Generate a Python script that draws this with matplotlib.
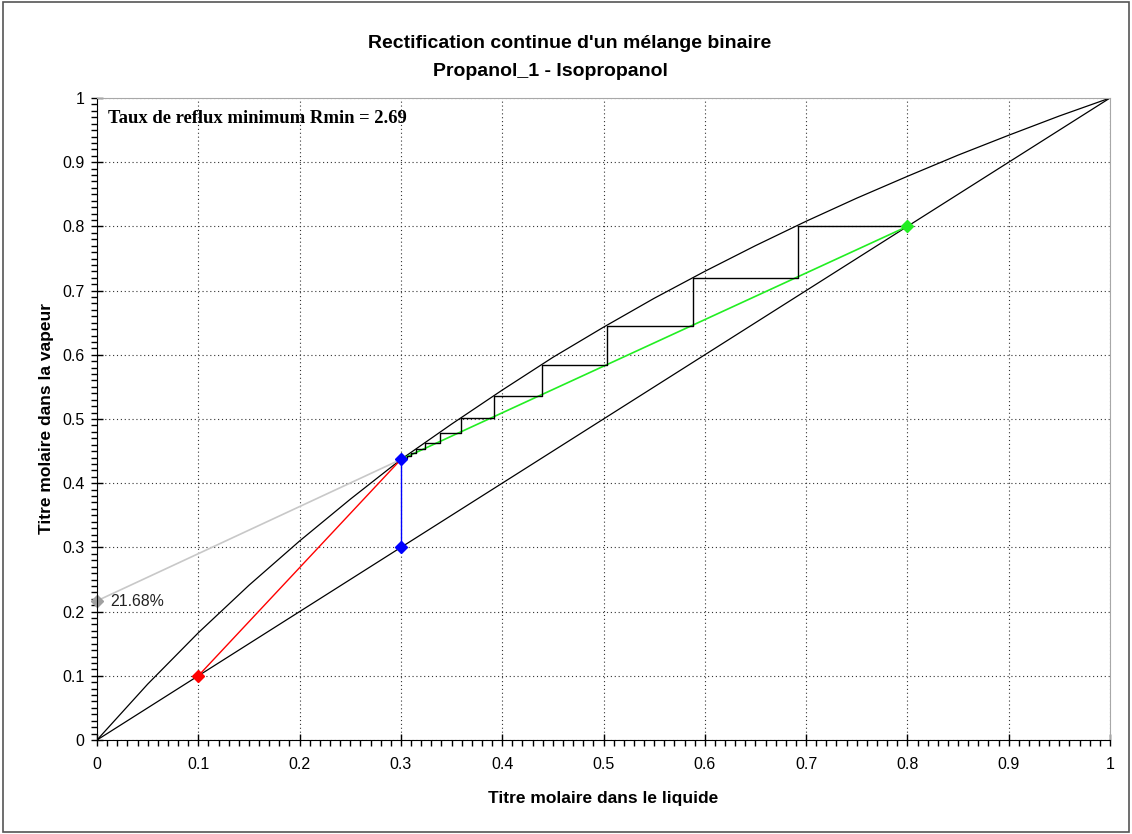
import numpy as np
import matplotlib
matplotlib.use("Agg")
import matplotlib.pyplot as plt
from matplotlib.patches import Rectangle
from matplotlib.ticker import MultipleLocator

# Courbe d'équilibre
eq_x = [0, 0.05, 0.1, 0.15, 0.2, 0.25, 0.3, 0.35, 0.4, 0.45, 0.5,
        0.55, 0.6, 0.65, 0.7, 0.75, 0.8, 0.85, 0.9, 0.95, 1.0]
eq_y = [0, 0.087, 0.167, 0.241, 0.310, 0.375, 0.437, 0.492, 0.545, 0.596, 0.643,
        0.688, 0.730, 0.770, 0.808, 0.844, 0.878, 0.911, 0.942, 0.972, 1.0]

# Points caractéristiques
x_D = 0.8       # distillat
x_F = 0.3       # alimentation
x_W = 0.1       # résidu
y_pinch = 0.437
R_min = 2.69
intercept = 0.2168

# Escalier (x liquide en équilibre, y vapeur)
steps_x = [0.692, 0.588, 0.503, 0.439, 0.392, 0.359, 0.3386, 0.3238, 0.3151, 0.3095, 0.3059, 0.3037]
steps_y = [0.800, 0.719, 0.645, 0.584, 0.536, 0.501, 0.478, 0.462, 0.453, 0.4465, 0.4424, 0.4398]

fig = plt.figure(figsize=(11.32, 8.34), dpi=100)
ax = fig.add_axes([97 / 1132, 1 - 740 / 834, (1110 - 97) / 1132, (740 - 98) / 834])

# diagonale et équilibre
ax.plot([0, 1], [0, 1], color="black", lw=0.9)
ax.plot(eq_x, eq_y, color="black", lw=0.9)

# droites opératoires
ax.plot([0, x_F], [intercept, y_pinch], color="#c8c8c8", lw=1.2)
ax.plot([x_F, x_D], [y_pinch, x_D], color="#22ee22", lw=1.2)
ax.plot([x_W, x_F], [x_W, y_pinch], color="red", lw=1.0)
ax.plot([x_F, x_F], [x_F, y_pinch], color="blue", lw=1.0)

# escalier
px, py = [x_D], [x_D]
for i in range(len(steps_x)):
    px += [steps_x[i]]
    py += [steps_y[i]]
    if i + 1 < len(steps_y):
        px += [steps_x[i]]
        py += [steps_y[i + 1]]
ax.plot(px, py, color="black", lw=1.0)

# marqueurs
ax.plot([x_D], [x_D], "D", color="#22ee22", ms=6, clip_on=False)
ax.plot([x_F, x_F], [x_F, y_pinch], "D", color="blue", ms=6)
ax.plot([x_W], [x_W], "D", color="red", ms=6)
ax.plot([0], [intercept], "D", color="#a0a0a0", ms=6, clip_on=False)
ax.text(0.013, intercept - 0.001, f"{intercept * 100:.2f}%", fontsize=11.4,
        family="Liberation Sans", va="center", ha="left", color="#222222")

ax.text(0.011, 0.968, f"Taux de reflux minimum Rmin = {R_min:.2f}",
        family="Liberation Serif", fontweight="bold", fontsize=13.4,
        va="center", ha="left")

ax.set_xlim(0, 1)
ax.set_ylim(0, 1)
ax.xaxis.set_major_locator(MultipleLocator(0.1))
ax.yaxis.set_major_locator(MultipleLocator(0.1))
ax.xaxis.set_minor_locator(MultipleLocator(0.01))
ax.yaxis.set_minor_locator(MultipleLocator(0.01))
ax.xaxis.set_major_formatter(plt.FuncFormatter(lambda v, p: f"{v:g}"))
ax.yaxis.set_major_formatter(plt.FuncFormatter(lambda v, p: f"{v:g}"))
ax.tick_params(which="major", direction="inout", length=8, width=1, labelsize=11.5, pad=5)
ax.tick_params(axis="x", which="major", pad=8)
ax.tick_params(which="minor", direction="out", length=4, width=1)
for lab in ax.get_xticklabels() + ax.get_yticklabels():
    lab.set_family("Liberation Sans")

ax.grid(True, which="major", color="#333333", linestyle=(0, (1, 2.5)), lw=0.8)
ax.spines["top"].set_color("#a8a8a8")
ax.spines["right"].set_color("#a8a8a8")

ax.set_xlabel("Titre molaire dans le liquide", family="Liberation Sans",
              fontweight="bold", fontsize=12.5, labelpad=14)
ax.set_ylabel("Titre molaire dans la vapeur", family="Liberation Sans",
              fontweight="bold", fontsize=12.5, labelpad=6)

fig.text(570 / 1132, 1 - 44 / 834, "Rectification continue d'un mélange binaire",
         family="Liberation Sans", fontweight="bold", fontsize=14, ha="center", va="center")
fig.text(550 / 1132, 1 - 71 / 834, "Propanol_1 - Isopropanol",
         family="Liberation Sans", fontweight="bold", fontsize=14, ha="center", va="center")

fig.patches.append(Rectangle((0.003, 0.002), 0.994, 0.996, transform=fig.transFigure,
                             fill=False, edgecolor="#555555", lw=1.2))

fig.savefig("out.png", dpi=100)
